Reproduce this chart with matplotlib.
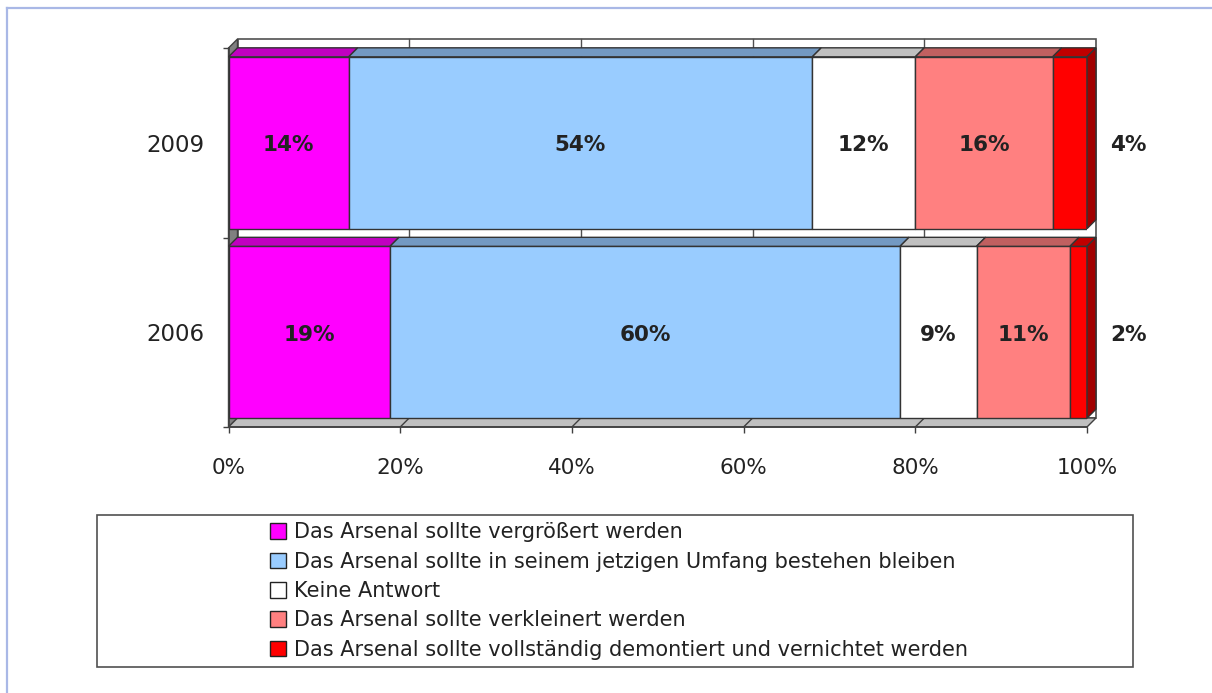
import matplotlib
matplotlib.use("Agg")
import matplotlib.pyplot as plt
from matplotlib.patches import Polygon, Rectangle, Patch
from matplotlib.lines import Line2D
import numpy as np

plt.rcParams['font.family'] = ['DejaVu Sans']

# ---- data ----
years = ['2006', '2009']
series_labels = [
    'Das Arsenal sollte vergrößert werden',
    'Das Arsenal sollte in seinem jetzigen Umfang bestehen bleiben',
    'Keine Antwort',
    'Das Arsenal sollte verkleinert werden',
    'Das Arsenal sollte vollständig demontiert und vernichtet werden',
]
values_2006 = [19, 60, 9, 11, 2]
values_2009 = [14, 54, 12, 16, 4]
x_ticks = [0, 20, 40, 60, 80, 100]

front_colors = ['#ff00ff', '#99ccff', '#ffffff', '#ff8080', '#ff0000']
top_colors = ['#c000c0', '#7399c2', '#c0c0c0', '#c06060', '#c00000']
side_color = '#a00000'
text_color = '#222222'
edge_col = '#333333'

W, H, DPI = 1212, 693, 100
fig = plt.figure(figsize=(W / DPI, H / DPI), dpi=DPI)

# plot area (front plane) in pixels
x0p, x1p, ytp, ybp = 228.5, 1087.0, 48.0, 427.0
ax = fig.add_axes([x0p / W, 1 - ybp / H, (x1p - x0p) / W, (ybp - ytp) / H])
ax.set_xlim(0, 100)
ax.set_ylim(-0.5, 1.5)
ax.set_facecolor('none')

depth_px = 9.0
dx = depth_px / ((x1p - x0p) / 100.0)
dy = depth_px / ((ybp - ytp) / 2.0)

# back wall
ax.add_patch(Rectangle((dx, -0.5 + dy), 100, 2, facecolor='white',
                       edgecolor='#505050', lw=1.2, zorder=0.5, clip_on=False))
for t in x_ticks[1:-1]:
    ax.plot([t + dx, t + dx], [-0.5 + dy, 1.5 + dy], color='#505050', lw=1.0,
            zorder=0.6, clip_on=False)
# left wall
ax.add_patch(Polygon([(0, -0.5), (0, 1.5), (dx, 1.5 + dy), (dx, -0.5 + dy)],
                     closed=True, facecolor='#808080', edgecolor='#404040',
                     lw=1.0, zorder=1, clip_on=False))
# floor
ax.add_patch(Polygon([(0, -0.5), (100, -0.5), (100 + dx, -0.5 + dy), (dx, -0.5 + dy)],
                     closed=True, facecolor='#c0c0c0', edgecolor='#404040',
                     lw=1.0, zorder=1, clip_on=False))
for t in x_ticks[1:-1]:
    ax.plot([t, t + dx], [-0.5, -0.5 + dy], color='#404040', lw=1.0,
            zorder=1.1, clip_on=False)

bar_h = 0.907
rows = [values_2006, values_2009]
for yi, vals in enumerate(rows):
    vals = np.array(vals, dtype=float)
    pct = vals / vals.sum() * 100.0
    lefts = np.concatenate([[0], np.cumsum(pct)[:-1]])
    ax.barh([yi] * len(pct), pct, left=lefts, height=bar_h, color=front_colors,
            edgecolor=edge_col, lw=1.0, zorder=3)
    yt = yi + bar_h / 2
    yb = yi - bar_h / 2
    for i, (l, w) in enumerate(zip(lefts, pct)):
        r = l + w
        ax.add_patch(Polygon([(l, yt), (r, yt), (r + dx, yt + dy), (l + dx, yt + dy)],
                             closed=True, facecolor=top_colors[i], edgecolor=edge_col,
                             lw=1.0, zorder=3, clip_on=False))
    r = lefts[-1] + pct[-1]
    ax.add_patch(Polygon([(r, yb), (r, yt), (r + dx, yt + dy), (r + dx, yb + dy)],
                         closed=True, facecolor=side_color, edgecolor=edge_col,
                         lw=1.0, zorder=3, clip_on=False))
    # labels
    for i, (l, w, v) in enumerate(zip(lefts, pct, vals)):
        if i == len(vals) - 1:
            xl = 100 + 4.8
        else:
            xl = l + w / 2
        ax.text(xl, yi - 0.012, f'{int(v)}%', ha='center', va='center',
                fontsize=15.5, fontweight='bold', color=text_color, zorder=5,
                clip_on=False)

# axes styling
for s in ['top', 'right']:
    ax.spines[s].set_visible(False)
for s in ['left', 'bottom']:
    ax.spines[s].set_color('#404040')
    ax.spines[s].set_linewidth(1.2)
    ax.spines[s].set_zorder(2)

ax.set_xticks(x_ticks)
ax.set_xticklabels([f'{t}%' for t in x_ticks])
ax.tick_params(axis='x', direction='out', length=4.5, width=1, color='#404040',
               pad=18, labelsize=15.5, labelcolor=text_color)
ax.set_yticks([0, 1])
ax.set_yticklabels(years)
ax.set_yticks([-0.5, 0.5, 1.5], minor=True)
ax.tick_params(axis='y', which='major', length=0, pad=17, labelsize=16.5,
               labelcolor=text_color)
ax.tick_params(axis='y', which='minor', length=4.5, width=1, color='#404040')

# legend
handles = [Patch(facecolor=c, edgecolor='#222222', lw=1.0) for c in front_colors]
fig.add_artist(Rectangle((97 / W, 1 - 667 / H), (1133 - 97) / W, (667 - 515) / H,
                         transform=fig.transFigure, facecolor='white',
                         edgecolor='#505050', lw=1.2))
fig.legend(handles, series_labels, loc='center',
           bbox_to_anchor=(619 / W, 1 - 591 / H), frameon=False,
           fontsize=15, handlelength=0.77, handleheight=0.77, handletextpad=0.34,
           labelspacing=0.45, labelcolor=text_color, borderpad=0)

# outer frame (top and left lines)
fig.add_artist(Line2D([7 / W, 1.0], [1 - 8 / H, 1 - 8 / H], transform=fig.transFigure,
                      color='#a9b8e6', lw=1.6))
fig.add_artist(Line2D([7 / W, 7 / W], [0.0, 1 - 8 / H], transform=fig.transFigure,
                      color='#a9b8e6', lw=1.6))

fig.savefig('out.png', dpi=DPI)
